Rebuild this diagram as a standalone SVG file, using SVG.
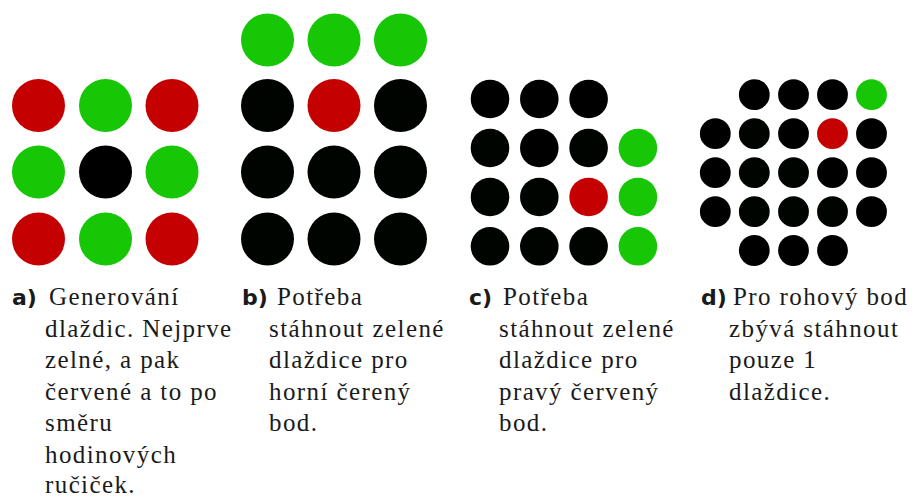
<svg xmlns="http://www.w3.org/2000/svg" width="920" height="497" viewBox="0 0 920 497">
<style>
.r{fill:#c40000}
.g{fill:#17c706}
.k{fill:#000000}
.d{fill:#000400}
.t{font-family:'Liberation Serif','Times New Roman',serif;font-size:25px;letter-spacing:1.4px;fill:#1a1a1a}
.l{font-family:'DejaVu Sans','Liberation Sans',sans-serif;font-size:22px;font-weight:bold;fill:#1a1a1a}
</style>
<rect width="920" height="497" fill="#ffffff"/>
<g id="panel-a">
<circle class="r" cx="38.5" cy="105.5" r="26.5"/>
<circle class="g" cx="105.5" cy="105.5" r="26.5"/>
<circle class="r" cx="172" cy="105.5" r="26.5"/>
<circle class="g" cx="38.5" cy="172" r="26.5"/>
<circle class="k" cx="105.5" cy="172" r="26.5"/>
<circle class="g" cx="172" cy="172" r="26.5"/>
<circle class="r" cx="38.5" cy="239" r="26.5"/>
<circle class="g" cx="105.5" cy="239" r="26.5"/>
<circle class="r" cx="172" cy="239" r="26.5"/>
<text class="l" x="12" y="305">a)</text>
<text class="t" x="49" y="305">Generování</text>
<text class="t" x="45" y="336.5">dlaždic. Nejprve</text>
<text class="t" x="45" y="368">zelné, a pak</text>
<text class="t" x="45" y="399.5">červené a to po</text>
<text class="t" x="45" y="431">směru</text>
<text class="t" x="45" y="462.5">hodinových</text>
<text class="t" x="45" y="493">ručiček.</text>
</g>
<g id="panel-b">
<circle class="g" cx="267.5" cy="40" r="26.5"/>
<circle class="g" cx="334" cy="40" r="26.5"/>
<circle class="g" cx="400.5" cy="40" r="26.5"/>
<circle class="d" cx="267.5" cy="105.5" r="26.5"/>
<circle class="r" cx="334" cy="105.5" r="26.5"/>
<circle class="d" cx="400.5" cy="105.5" r="26.5"/>
<circle class="d" cx="267.5" cy="172" r="26.5"/>
<circle class="d" cx="334" cy="172" r="26.5"/>
<circle class="d" cx="400.5" cy="172" r="26.5"/>
<circle class="d" cx="267.5" cy="239" r="26.5"/>
<circle class="d" cx="334" cy="239" r="26.5"/>
<circle class="d" cx="400.5" cy="239" r="26.5"/>
<text class="l" x="242" y="305">b)</text>
<text class="t" x="277" y="305">Potřeba</text>
<text class="t" x="269" y="336.5">stáhnout zelené</text>
<text class="t" x="269" y="368">dlaždice pro</text>
<text class="t" x="269" y="399.5">horní čerený</text>
<text class="t" x="269" y="431">bod.</text>
</g>
<g id="panel-c">
<circle class="k" cx="490" cy="99" r="19.3"/>
<circle class="k" cx="539.3" cy="99" r="19.3"/>
<circle class="k" cx="588.6" cy="99" r="19.3"/>
<circle class="d" cx="490" cy="148" r="19.3"/>
<circle class="k" cx="539.3" cy="148" r="19.3"/>
<circle class="d" cx="588.6" cy="148" r="19.3"/>
<circle class="g" cx="637.9" cy="148" r="19.3"/>
<circle class="d" cx="490" cy="197" r="19.3"/>
<circle class="d" cx="539.3" cy="197" r="19.3"/>
<circle class="r" cx="588.6" cy="197" r="19.3"/>
<circle class="g" cx="637.9" cy="197" r="19.3"/>
<circle class="d" cx="490" cy="246.3" r="19.3"/>
<circle class="d" cx="539.3" cy="246.3" r="19.3"/>
<circle class="d" cx="588.6" cy="246.3" r="19.3"/>
<circle class="g" cx="637.9" cy="246.3" r="19.3"/>
<text class="l" x="469" y="305">c)</text>
<text class="t" x="503" y="305">Potřeba</text>
<text class="t" x="499" y="336.5">stáhnout zelené</text>
<text class="t" x="499" y="368">dlaždice pro</text>
<text class="t" x="499" y="399.5">pravý červený</text>
<text class="t" x="499" y="431">bod.</text>
</g>
<g id="panel-d">
<circle class="k" cx="754.3" cy="94.7" r="15.4"/>
<circle class="k" cx="793.5" cy="94.7" r="15.4"/>
<circle class="k" cx="832.5" cy="94.7" r="15.4"/>
<circle class="g" cx="871.5" cy="94.7" r="15.4"/>
<circle class="k" cx="715.3" cy="133.7" r="15.4"/>
<circle class="d" cx="754.3" cy="133.7" r="15.4"/>
<circle class="k" cx="793.5" cy="133.7" r="15.4"/>
<circle class="r" cx="832.5" cy="133.7" r="15.4"/>
<circle class="k" cx="871.5" cy="133.7" r="15.4"/>
<circle class="k" cx="715.3" cy="172.7" r="15.4"/>
<circle class="d" cx="754.3" cy="172.7" r="15.4"/>
<circle class="d" cx="793.5" cy="172.7" r="15.4"/>
<circle class="k" cx="832.5" cy="172.7" r="15.4"/>
<circle class="k" cx="871.5" cy="172.7" r="15.4"/>
<circle class="k" cx="715.3" cy="211.7" r="15.4"/>
<circle class="d" cx="754.3" cy="211.7" r="15.4"/>
<circle class="d" cx="793.5" cy="211.7" r="15.4"/>
<circle class="d" cx="832.5" cy="211.7" r="15.4"/>
<circle class="k" cx="871.5" cy="211.7" r="15.4"/>
<circle class="k" cx="754.3" cy="250.5" r="15.4"/>
<circle class="k" cx="793.5" cy="250.5" r="15.4"/>
<circle class="k" cx="832.5" cy="250.5" r="15.4"/>
<text class="l" x="701" y="305">d)</text>
<text class="t" x="733" y="305">Pro rohový bod</text>
<text class="t" x="729" y="336.5">zbývá stáhnout</text>
<text class="t" x="729" y="368">pouze 1</text>
<text class="t" x="729" y="399.5">dlaždice.</text>
</g>
<g id="connectors"/>
</svg>
